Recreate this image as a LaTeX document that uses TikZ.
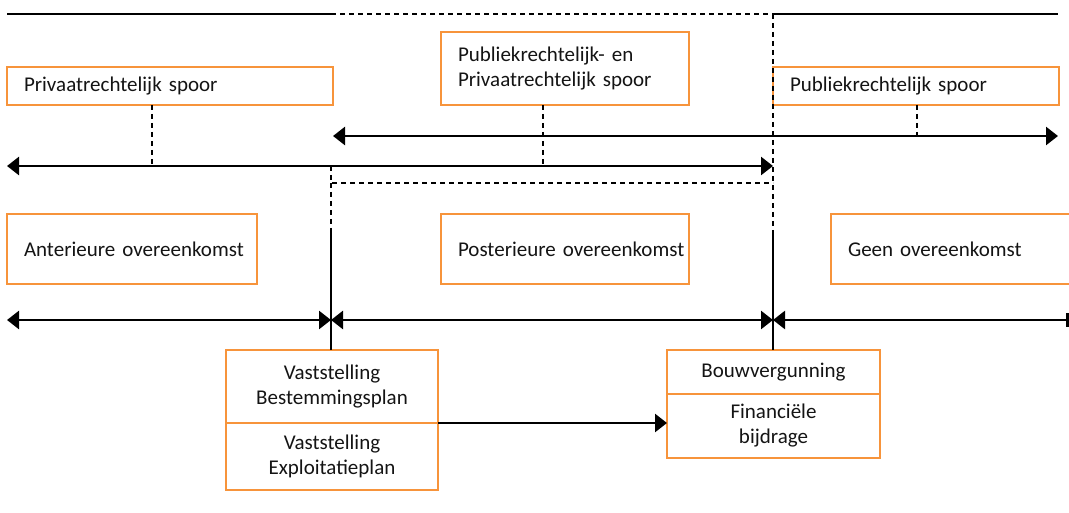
\documentclass[tikz,border=0pt]{standalone}
\usepackage{fontspec}
\setmainfont{Carlito}
\usetikzlibrary{arrows.meta}
\definecolor{orng}{RGB}{247,148,59}
\definecolor{ink}{RGB}{20,20,20}
\DeclareRobustCommand\diagfont{\fontsize{21}{25}\selectfont\spaceskip=3.4pt plus 1pt minus 1pt\relax}
\begin{document}
\begin{tikzpicture}[x=1pt,y=-1pt,
  font=\diagfont,
  obox/.style={draw=orng, line width=2.7pt, inner xsep=17pt, inner ysep=0pt, outer sep=0pt, align=left, anchor=north west, text=ink},
  tbox/.style={inner xsep=17pt, inner ysep=0pt, outer sep=0pt, align=left, anchor=north west, text=ink},
  ibox/.style={inner xsep=4pt, inner ysep=0pt, outer sep=0pt, align=center, anchor=north west, text=ink},
  frame/.style={draw=orng, line width=2.7pt},
  divl/.style={draw=orng, line width=1.3pt},
  ln/.style={draw=black, line width=2.6pt},
  dsh/.style={draw=black, line width=2.6pt, dash pattern=on 5pt off 4pt},
  tip/.style={-{Triangle[length=12pt,width=18pt]}},
  dtip/.style={{Triangle[length=12pt,width=18pt]}-{Triangle[length=12pt,width=18pt]}}
]
\useasboundingbox (0,0) rectangle (1069,513);

% top row boxes
\node[obox, text width=292pt, minimum height=38pt] (priv) at (7,67) {\mbox{Privaatrechtelijk spoor}};
\node[obox, text width=214pt, minimum height=73pt] (mix) at (441,32) {\mbox{Publiekrechtelijk- en}\\\mbox{Privaatrechtelijk spoor}};
\node[obox, text width=252pt, minimum height=38pt] (publ) at (773,67) {\mbox{Publiekrechtelijk spoor}};

% middle row boxes
\node[obox, text width=216pt, minimum height=70pt] (ante) at (7,214) {\mbox{Anterieure overeenkomst}};
\node[obox, text width=214pt, minimum height=70pt] (post) at (441,214) {\mbox{Posterieure overeenkomst}};
\node[tbox, text width=204pt, minimum height=70pt] (geen) at (831,214) {\mbox{Geen overeenkomst}};
\draw[frame] (geen.north east) -- (geen.north west) -- (geen.south west) -- (geen.south east);

% bottom boxes
\node[ibox, text width=204pt, minimum height=73pt] (vastA) at (226,350) {Vaststelling\\Bestemmingsplan};
\node[ibox, text width=204pt, minimum height=67pt] (vastB) at (226,423) {Vaststelling\\Exploitatieplan};
\node[ibox, text width=205pt, minimum height=44pt] (bouwA) at (667,350) {Bouwvergunning};
\node[ibox, text width=205pt, minimum height=64pt] (bouwB) at (667,394) {Financiële\\bijdrage};
\draw[divl] (vastA.south west) -- (vastA.south east);
\draw[divl] (bouwA.south west) -- (bouwA.south east);
\draw[frame] (vastA.north west) rectangle (vastB.south east);
\draw[frame] (bouwA.north west) rectangle (bouwB.south east);

% coordinates
\coordinate (t0) at (7,14);
\coordinate (t1) at (331,14);
\coordinate (t2) at (773,14);
\coordinate (t3) at (1058,14);
\coordinate (a1L) at (7,166);
\coordinate (a1R) at (773,166);
\coordinate (a2L) at (333,136);
\coordinate (a2R) at (1058,136);
\coordinate (d1) at (152,166);
\coordinate (d2) at (543,166);
\coordinate (d3) at (917,136);
\coordinate (k0) at (331,166);
\coordinate (k1) at (331,183);
\coordinate (k2) at (773,183);
\coordinate (vL) at (331,233);
\coordinate (vR) at (773,233);
\coordinate (b0) at (7,320);
\coordinate (b1) at (331,320);
\coordinate (b2) at (773,320);
\coordinate (b3) at (1069,320);

% top line
\draw[ln] (t0) -- (t1);
\draw[dsh] (t1) -- (t2);
\draw[ln] (t2) -- (t3);

% dashed frame
\draw[dsh] (t2) -- (vR);
\draw[dsh] (k0) -- (k1) -- (k2);
\draw[dsh] (k1) -- (vL);

% track arrows
\draw[ln, dtip] (a1L) -- (a1R);
\draw[ln, dtip] (a2L) -- (a2R);

% droppers
\draw[dsh] (priv.south -| d1) -- (d1);
\draw[dsh] (mix.south -| d2) -- (d2);
\draw[dsh] (publ.south -| d3) -- (d3);

% vertical solid lines
\draw[ln] (vL) -- (vastA.north -| vL);
\draw[ln] (vR) -- (bouwA.north -| vR);

% bottom arrows
\draw[ln, dtip] (b1) -- (b2);
\draw[ln, dtip] (b0) -- (b1);
\draw[ln, {Triangle[length=12pt,width=18pt]}-|] (b2) -- (b3);

% arrow between boxes
\draw[ln, tip] (vastA.south east) -- (vastA.south east -| bouwB.west);
\end{tikzpicture}
\end{document}
